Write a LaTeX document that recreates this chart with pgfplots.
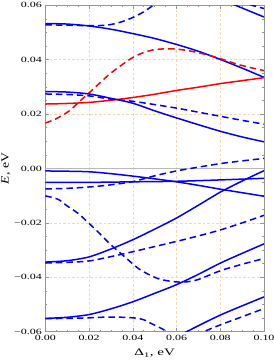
\documentclass[border=0pt]{standalone}
\usepackage{fontspec}
\setmainfont{Liberation Serif}
\usepackage{graphicx}
\usepackage{pgfplots}
\pgfplotsset{compat=1.18}
\definecolor{gridc}{RGB}{250,212,172}
\definecolor{framec}{RGB}{150,150,150}
\newcommand\sx[1]{\scalebox{1.5}[1]{#1}}
\pgfplotsset{
  bs/.style={blue, line width=1.5bp, smooth, no markers},
  bd/.style={blue, line width=1.5bp, smooth, no markers, dash pattern=on 6.5bp off 4bp},
  rs/.style={red, line width=1.5bp, smooth, no markers},
  rd/.style={red, line width=1.5bp, smooth, no markers, dash pattern=on 6.5bp off 4bp},
}
\begin{document}
\begin{tikzpicture}
\useasboundingbox (-45.3bp,-32.3bp) rectangle (228.7bp,331.7bp);
\clip (-45.3bp,-32.3bp) rectangle (228.7bp,331.7bp);
\begin{axis}[
  scale only axis, width=218.7bp, height=326.4bp,
  xmin=0, xmax=0.1, ymin=-0.06, ymax=0.06,
  xtick={0,0.02,0.04,0.06,0.08,0.1},
  xticklabels={\sx{0.00},\sx{0.02},\sx{0.04},\sx{0.06},\sx{0.08},\sx{0.10}},
  ytick={-0.06,-0.04,-0.02,0,0.02,0.04,0.06},
  yticklabels={\sx{−0.06},\sx{−0.04},\sx{−0.02},\sx{0.00},\sx{0.02},\sx{0.04},\sx{0.06}},
  minor tick num=3,
  tick align=inside,
  major tick length=4bp, minor tick length=2bp,
  axis line style={framec, line width=0.5bp},
  every tick/.style={framec, line width=0.5bp},
  grid=major,
  major grid style={gridc, line width=0.5bp, dash pattern=on 2.5bp off 2bp},
  tick label style={font=\fontsize{8}{9}\selectfont, text=black},
  xlabel={\sx{Δ\textsubscript{1}, eV}},
  ylabel={\scalebox{1.25}[1]{\textit{E}, eV}},
  xlabel style={at={(axis description cs:0.5,-0.0735)}, anchor=base, font=\fontsize{10}{12}\selectfont},
  ylabel style={at={(axis description cs:-0.18,0.5)}, anchor=center, font=\fontsize{11}{13}\selectfont},
]
\addplot[gray!55, line width=0.9bp, forget plot] coordinates {(0,0) (0.1,0)};
% top blue solid
\addplot[bs] coordinates {(0,0.0533) (0.01,0.0531) (0.02,0.0524) (0.03,0.0512) (0.04,0.0496) (0.05,0.0478) (0.06,0.0456) (0.07,0.0431) (0.08,0.0401) (0.09,0.0369) (0.1,0.0335)};
% top blue dashed
\addplot[bd] coordinates {(0,0.0528) (0.01,0.0527) (0.02,0.0525) (0.028,0.0527) (0.034,0.0537) (0.04,0.0555) (0.045,0.0576) (0.0495,0.0601) (0.052,0.0615)};
% top right solid
\addplot[bs] coordinates {(0.083,0.0615) (0.0855,0.0605) (0.093,0.0580) (0.1,0.0557)};
% top right dashed
\addplot[bd] coordinates {(0.089,0.0615) (0.0925,0.0605) (0.1,0.0588)};
% red dashed
\addplot[rd] coordinates {(0,0.0167) (0.005,0.0183) (0.011,0.0212) (0.0157,0.0247) (0.0203,0.028) (0.025,0.0315) (0.0294,0.0347) (0.0355,0.0384) (0.0416,0.0415) (0.0492,0.0436) (0.0584,0.0440) (0.0675,0.0430) (0.078,0.0409) (0.0888,0.0381) (0.1,0.0360)};
% red solid
\addplot[rs] coordinates {(0,0.0237) (0.01,0.0239) (0.02,0.0243) (0.03,0.0251) (0.04,0.0261) (0.05,0.0273) (0.06,0.0287) (0.07,0.0299) (0.08,0.0312) (0.09,0.0323) (0.1,0.0334)};
% blue solid 2
\addplot[bs] coordinates {(0,0.0283) (0.01,0.0281) (0.02,0.0274) (0.03,0.0258) (0.04,0.0240) (0.05,0.0212) (0.06,0.0186) (0.07,0.0161) (0.08,0.0137) (0.09,0.0116) (0.1,0.0098)};
% blue dashed 2
\addplot[bd] coordinates {(0,0.0274) (0.01,0.0272) (0.02,0.0267) (0.03,0.0255) (0.04,0.0247) (0.05,0.0235) (0.06,0.0222) (0.07,0.0207) (0.08,0.0192) (0.09,0.0177) (0.1,0.0163)};
% dashed rising near zero
\addplot[bd] coordinates {(0,-0.0075) (0.01,-0.0073) (0.02,-0.0068) (0.03,-0.0060) (0.04,-0.0048) (0.05,-0.0027) (0.06,-0.0009) (0.07,0.0005) (0.08,0.0018) (0.09,0.0028) (0.1,0.0037)};
% solid near zero, descending
\addplot[bs] coordinates {(0,-0.0009) (0.01,-0.0010) (0.02,-0.0012) (0.03,-0.0019) (0.04,-0.0028) (0.05,-0.0038) (0.06,-0.0049) (0.07,-0.0062) (0.08,-0.0076) (0.09,-0.0089) (0.1,-0.0102)};
% solid flat near zero
\addplot[bs] coordinates {(0,-0.0051) (0.02,-0.0051) (0.04,-0.0049) (0.06,-0.0047) (0.08,-0.0042) (0.1,-0.0036)};
% solid rising from -0.0345
\addplot[bs] coordinates {(0,-0.0344) (0.01,-0.0339) (0.02,-0.0325) (0.03,-0.0296) (0.04,-0.0262) (0.05,-0.0223) (0.06,-0.0182) (0.07,-0.0135) (0.08,-0.0087) (0.09,-0.0046) (0.1,-0.0008)};
% dashed rising from -0.0347
\addplot[bd] coordinates {(0,-0.0347) (0.01,-0.0345) (0.02,-0.0340) (0.03,-0.0324) (0.04,-0.0306) (0.05,-0.0287) (0.06,-0.0268) (0.07,-0.0248) (0.08,-0.0226) (0.09,-0.0200) (0.1,-0.0172)};
% dashed falling from -0.010
\addplot[bd] coordinates {(0,-0.0101) (0.004,-0.0108) (0.0067,-0.0117) (0.0097,-0.0136) (0.015,-0.0165) (0.02,-0.0202) (0.025,-0.0240) (0.0294,-0.0276) (0.0355,-0.0319) (0.043,-0.0370) (0.0506,-0.0402) (0.056,-0.0413) (0.06,-0.0417) (0.0643,-0.0417) (0.07,-0.0408) (0.08,-0.0376) (0.09,-0.0352) (0.1,-0.0331)};
% solid rising from -0.055
\addplot[bs] coordinates {(0,-0.0551) (0.01,-0.0547) (0.02,-0.0537) (0.03,-0.0516) (0.04,-0.0490) (0.05,-0.0459) (0.06,-0.0427) (0.07,-0.0389) (0.08,-0.0348) (0.09,-0.0312) (0.1,-0.0277)};
% dashed from -0.055 descending
\addplot[bd] coordinates {(0,-0.0552) (0.01,-0.0551) (0.02,-0.0549) (0.03,-0.0546) (0.04,-0.0549) (0.045,-0.0556) (0.0477,-0.0567) (0.0538,-0.0591) (0.0555,-0.0600) (0.058,-0.0612)};
% bottom right solid
\addplot[bs] coordinates {(0.061,-0.0617) (0.0635,-0.0605) (0.07,-0.0578) (0.08,-0.0539) (0.09,-0.0505) (0.1,-0.0472)};
% bottom right dashed
\addplot[bd] coordinates {(0.069,-0.0613) (0.0715,-0.0603) (0.08,-0.0575) (0.09,-0.0545) (0.1,-0.0515)};
\end{axis}
\end{tikzpicture}
\end{document}
